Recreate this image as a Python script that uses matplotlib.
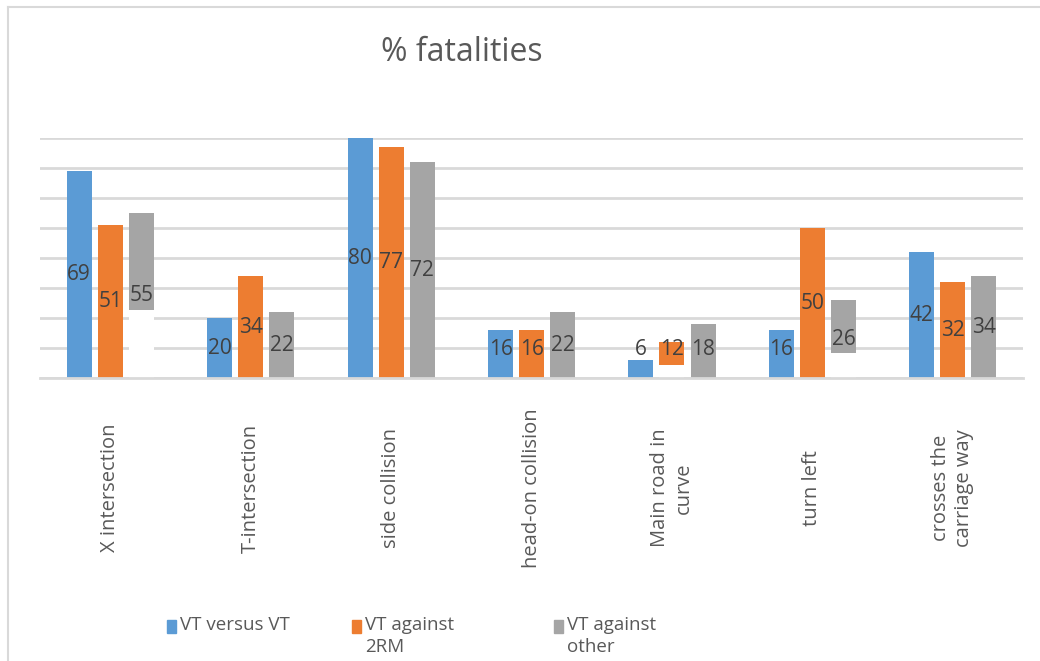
import numpy as np
import matplotlib
matplotlib.use('Agg')
import matplotlib.pyplot as plt
from matplotlib.patches import Rectangle
from matplotlib.lines import Line2D

plt.rcParams['font.family'] = ['Open Sans', 'DejaVu Sans']

categories = ['X intersection', 'T-intersection', 'side collision', 'head-on collision',
              'Main road in\ncurve', 'turn left', 'crosses the\ncarriage way']
series_names = ['VT versus VT', 'VT against\n2RM', 'VT against\nother']
vt_versus_vt = [69, 20, 80, 16, 6, 16, 42]
vt_against_2rm = [51, 34, 77, 16, 12, 50, 32]
vt_against_other = [55, 22, 72, 22, 18, 26, 34]
# white blanks at the foot of some bars in the original picture
gap_vt = [0, 0, 0, 0, 0, 0, 0]
gap_2rm = [0, 0, 0, 0, 4.3, 0, 0]
gap_other = [22.7, 0, 0, 0, 0, 8.4, 0]

colors = ['#5B9BD5', '#ED7D31', '#A5A5A5']
text_color = '#404040'
grid_color = '#D9D9D9'

fig = plt.figure(figsize=(10.4, 6.61), dpi=100)
ax = fig.add_axes([0.0385, 0.4281, 0.9452, 0.3631])

x = np.arange(len(categories))
width = 0.178
step = 0.221
all_values = [vt_versus_vt, vt_against_2rm, vt_against_other]
all_gaps = [gap_vt, gap_2rm, gap_other]

for i, (vals, gaps) in enumerate(zip(all_values, all_gaps)):
    pos = x + (i - 1) * step
    ax.bar(pos, vals, width, color=colors[i], zorder=2)
    ax.bar(pos, gaps, width, color='white', zorder=2.2)
    for xp, v in zip(pos, vals):
        ax.text(xp, max(v / 2, 9.5), str(v), ha='center', va='center',
                fontsize=15, color=text_color, zorder=3)

ax.set_xlim(-0.5, len(categories) - 0.5)
ax.set_ylim(0, 80)
ax.set_yticks(np.arange(0, 81, 10))
ax.yaxis.grid(True, color=grid_color, linewidth=2)
ax.set_axisbelow(True)
ax.tick_params(left=False, bottom=False, labelleft=False, labelbottom=False)
for s in ['top', 'right', 'left']:
    ax.spines[s].set_visible(False)
ax.spines['bottom'].set_color(grid_color)
ax.spines['bottom'].set_linewidth(2)
ax.spines['bottom'].set_zorder(2.5)

# category labels, rotated
for xi, cat in zip(x, categories):
    ax.text(xi, -0.458, cat, transform=ax.get_xaxis_transform(), rotation=90,
            ha='center', va='center', multialignment='center',
            fontsize=14.5, color='#595959')

fig.text(0.444, 0.921, '% fatalities', ha='center', va='center',
         fontsize=23, color='#595959')

# legend along the bottom
leg_x = [0.1606, 0.3385, 0.5327]
for lx, name, c in zip(leg_x, series_names, colors):
    fig.add_artist(Rectangle((lx, 1 - 633 / 661), 0.0087, 13 / 661,
                             transform=fig.transFigure, color=c))
    fig.text(lx + 0.0125, 1 - 616 / 661, name, ha='left', va='top',
             fontsize=13.5, color='#595959', linespacing=1.3)

# chart frame (left and top edges)
fig.add_artist(Line2D([8 / 1040, 8 / 1040], [0, 1 - 7 / 661], transform=fig.transFigure,
                      color=grid_color, linewidth=1.5))
fig.add_artist(Line2D([8 / 1040, 1], [1 - 7 / 661, 1 - 7 / 661], transform=fig.transFigure,
                      color=grid_color, linewidth=1.5))

plt.savefig('out.png', dpi=100)
